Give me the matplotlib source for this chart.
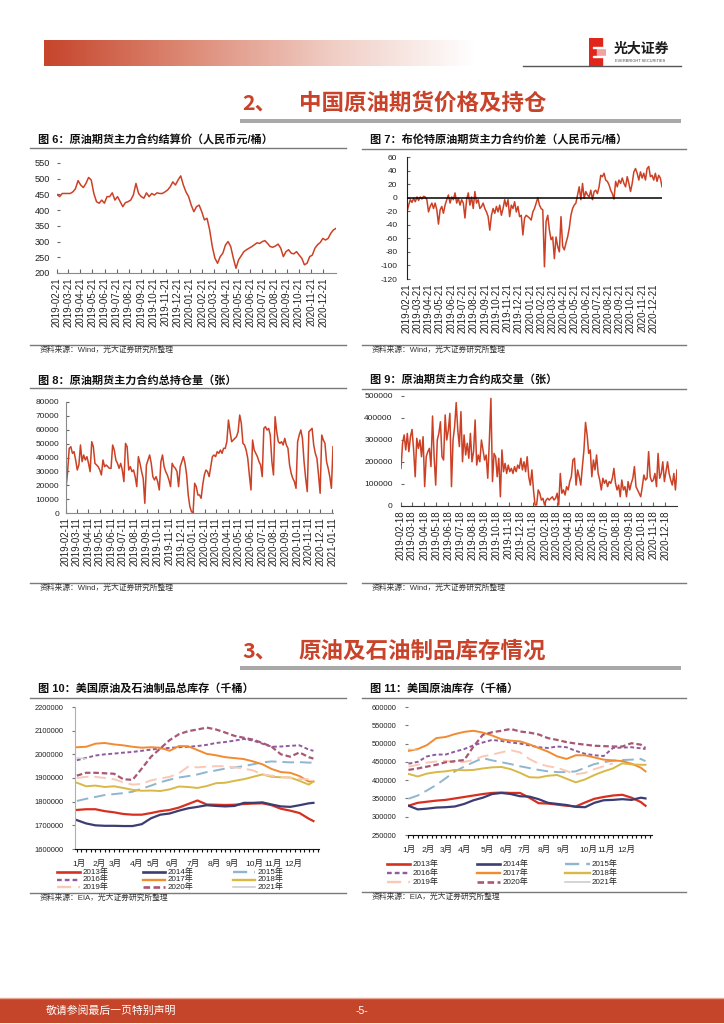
import numpy as np
import pandas as pd
import matplotlib
matplotlib.use('Agg')
import matplotlib.pyplot as plt
from matplotlib.lines import Line2D
from matplotlib.patches import Rectangle
from matplotlib.colors import LinearSegmentedColormap
from matplotlib.ticker import FuncFormatter

plt.rcParams['font.family'] = ['Liberation Sans', 'Noto Sans CJK SC', 'DejaVu Sans']
plt.rcParams['axes.unicode_minus'] = False

W, H = 724, 1024
RED = '#c9432a'
CJK = ['Noto Sans CJK SC', 'DejaVu Sans']

# ---------------- data ----------------
# 图6 结算价 (元/桶), 2019-02-21 .. 2021-01-22
PRICE = [450, 443, 453, 453, 453, 453, 458, 468, 494, 480, 472, 485, 504, 496, 453, 427, 422, 432,
         422, 443, 443, 455, 432, 443, 427, 411, 424, 427, 432, 448, 485, 453, 443, 438, 455, 443,
         453, 448, 455, 453, 453, 458, 464, 474, 490, 480, 496, 509, 480, 458, 443, 416, 395, 411,
         416, 395, 369, 374, 337, 284, 247, 231, 252, 263, 289, 300, 284, 247, 215, 242, 255, 268,
         274, 279, 284, 290, 296, 294, 300, 303, 294, 284, 282, 286, 292, 279, 252, 268, 274, 263,
         261, 268, 257, 247, 226, 231, 252, 257, 279, 290, 297, 310, 305, 310, 326, 337, 342]

# 图7 价差 (元/桶), 2019-02-21 .. 2021-01-13
SPREAD = [-21, -11, -3, -7, -1, -6, 1, -4, 1, -2, 2, 1, -3, -21, -13, -8, -16, -8, -18, -39,
          -18, -13, -23, -11, -3, 4, -8, 1, -3, 7, -8, -1, -11, -3, -8, -30, -3, 7, -11, 1,
          -16, 9, -8, -3, -16, -13, -8, -16, -21, -28, -48, -26, -16, -23, -13, -21, -11, -26,
          -16, -3, -13, -3, -28, -11, -16, -6, -21, -13, -28, -26, -55, -30, -26, -28, -30, -33,
          -21, -16, -8, 0, -11, -16, -18, -102, -35, -26, -48, -62, -58, -90, -58, -72, -80, -28,
          -72, -77, -67, -58, -45, -26, -16, -11, -8, 4, 16, -3, 21, -1, 9, 4, 1, 11, -3, 9, 11,
          6, 16, 33, 31, 36, 26, 24, 19, 11, 6, -2, 24, 16, 26, 21, 29, 21, 16, 31, 21, 9, 21,
          38, 43, 36, 26, 38, 29, 36, 26, 43, 46, 31, 33, 26, 36, 24, 33, 29, 16]

# 图8 总持仓量 (千张), 2019-02-11 .. 2021-01-13
OI_K = [17.8, 29.8, 46.6, 47.8, 43.0, 44.2, 38.2, 31.0, 34.6, 49.0, 37.0, 41.8, 38.2, 40.6, 35.8,
        29.8, 51.4, 47.8, 35.8, 34.6, 33.4, 31.0, 27.4, 38.2, 33.4, 34.6, 33.4, 32.2, 32.2, 49.0,
        45.4, 38.2, 35.8, 32.2, 35.8, 31.0, 22.6, 50.2, 47.8, 31.0, 33.4, 29.8, 31.0, 26.2, 19.0,
        40.6, 35.8, 29.8, 25.0, 7.0, 34.6, 38.2, 41.8, 35.8, 26.2, 23.8, 26.2, 22.6, 16.6, 37.0,
        41.8, 33.4, 29.8, 27.4, 23.8, 19.0, 35.8, 33.4, 32.2, 29.8, 19.0, 33.4, 37.0, 40.6, 35.8,
        27.4, 13.0, 4.6, 1.0, 0.0, 21.4, 19.0, 13.0, 13.0, 10.6, 20.2, 27.4, 31.0, 29.8, 26.2,
        33.4, 40.6, 41.8, 40.6, 44.2, 43.0, 45.4, 43.0, 46.6, 46.6, 51.4, 67.0, 58.6, 51.4, 52.6,
        53.8, 55.0, 58.6, 70.6, 64.6, 50.2, 49.0, 45.4, 39.4, 27.4, 16.6, 52.6, 45.4, 43.0, 40.6,
        37.0, 34.6, 26.2, 61.0, 62.2, 59.8, 61.0, 56.2, 37.0, 27.4, 69.4, 58.6, 51.4, 50.2, 51.4,
        49.0, 53.8, 49.0, 46.6, 34.6, 28.6, 25.0, 22.6, 17.8, 51.4, 56.2, 59.8, 53.8, 37.0, 25.0,
        15.4, 58.6, 59.8, 61.0, 49.0, 43.0, 39.4, 27.4, 14.2, 56.2, 52.6, 50.2, 37.0, 32.2, 26.2,
        17.8, 47.8]

# 图9 成交量 (千张), 2019-02-18 .. 2021-01-17
VOL_K = [171, 285, 323, 255, 330, 247, 315, 348, 255, 133, 308, 262, 300, 224, 315, 88, 224, 247,
         262, 179, 409, 224, 95, 300, 330, 383, 224, 209, 414, 300, 345, 421, 88, 300, 361, 470,
         345, 270, 429, 201, 323, 232, 285, 217, 330, 201, 247, 391, 186, 232, 201, 300, 255, 209,
         232, 126, 292, 489, 111, 239, 224, 133, 217, 42, 255, 156, 194, 148, 186, 156, 171, 148,
         179, 156, 186, 171, 217, 164, 201, 156, 224, 133, 95, 164, 73, 5, 5, 73, 58, 27, 35, 5,
         27, 35, 27, 35, 42, 27, 35, 58, 5, 148, 58, 73, 50, 88, 73, 111, 133, 209, 217, 95, 164,
         133, 95, 179, 255, 380, 323, 239, 255, 133, 209, 164, 232, 148, 118, 73, 126, 103, 118,
         88, 111, 103, 126, 171, 103, 73, 95, 42, 118, 73, 88, 42, 111, 73, 103, 126, 179, 88, 73,
         58, 42, 88, 141, 118, 126, 247, 133, 111, 118, 148, 88, 239, 126, 148, 201, 111, 156, 201,
         148, 118, 95, 148, 73, 164]

# 图10/11 周度 (第几周), 千桶
WEEKS = list(range(0, 51, 2)) + [51]
MONTHS = ['1月', '2月', '3月', '4月', '5月', '6月', '7月', '8月', '9月', '10月', '11月', '12月']
TOTAL_MONTH_WEEKS = [0.4, 4.7, 8.3, 12.8, 16.5, 20.5, 25.1, 29.7, 33.6, 38.2, 42.4, 46.7]
CRUDE_MONTH_WEEKS = [0.2, 4.3, 8.1, 12.0, 16.9, 21.0, 25.0, 29.3, 33.4, 38.6, 42.6, 46.9]
YEARS = ['2013年', '2014年', '2015年', '2016年', '2017年', '2018年', '2019年', '2020年', '2021年']

TOTAL_2013 = [1765, 1768, 1768, 1760, 1755, 1748, 1745, 1745, 1752, 1760, 1765, 1775, 1790, 1805,
              1788, 1787, 1786, 1787, 1790, 1792, 1793, 1785, 1770, 1762, 1752, 1728, 1718]
TOTAL_2014 = [1722, 1708, 1700, 1698, 1698, 1697, 1697, 1705, 1730, 1745, 1750, 1762, 1772, 1778,
              1785, 1782, 1780, 1782, 1795, 1795, 1797, 1788, 1780, 1778, 1785, 1793, 1795]
TOTAL_2015 = [1803, 1812, 1820, 1828, 1832, 1836, 1842, 1855, 1868, 1882, 1893, 1902, 1908, 1915,
              1925, 1932, 1940, 1945, 1950, 1958, 1966, 1970, 1968, 1966, 1967, 1965, 1965]
TOTAL_2016 = [1975, 1985, 1995, 2000, 2003, 2007, 2010, 2015, 2020, 2025, 2027, 2030, 2032, 2035,
              2040, 2048, 2052, 2058, 2065, 2058, 2045, 2032, 2033, 2036, 2038, 2020, 2015]
TOTAL_2017 = [2030, 2032, 2045, 2048, 2042, 2038, 2032, 2028, 2030, 2028, 2015, 2035, 2034, 2018,
              2002, 1996, 1988, 1984, 1980, 1970, 1958, 1938, 1925, 1922, 1908, 1885, 1885]
TOTAL_2018 = [1880, 1865, 1868, 1862, 1865, 1858, 1850, 1846, 1847, 1845, 1852, 1864, 1862, 1858,
              1866, 1878, 1880, 1888, 1895, 1905, 1915, 1905, 1903, 1902, 1888, 1872, 1885]
TOTAL_2019 = [1900, 1905, 1905, 1900, 1895, 1882, 1872, 1875, 1890, 1898, 1905, 1920, 1948, 1945,
              1948, 1950, 1950, 1945, 1940, 1932, 1915, 1910, 1905, 1900, 1895, 1895]
TOTAL_2020 = [1910, 1922, 1922, 1920, 1918, 1895, 1892, 1940, 1990, 2025, 2060, 2085, 2098, 2105,
              2113, 2105, 2092, 2078, 2070, 2062, 2048, 2032, 2000, 1990, 2008, 1988, 1982]
TOTAL_2021 = [1985, 1982]

CRUDE_2013 = [330, 338, 341, 344, 346, 350, 354, 358, 362, 365, 366, 365, 365, 352, 337, 336, 333,
              330, 328, 339, 349, 354, 358, 360, 352, 340, 330]
CRUDE_2014 = [330, 320, 322, 325, 326, 328, 335, 345, 352, 362, 365, 362, 356, 355, 348, 338, 335,
              332, 327, 326, 338, 345, 346, 348, 346, 352, 350]
CRUDE_2015 = [349, 358, 372, 387, 405, 424, 437, 449, 460, 454, 449, 444, 438, 433, 428, 424, 422,
              422, 424, 434, 444, 449, 453, 455, 456, 458, 452]
CRUDE_2016 = [445, 450, 465, 470, 470, 478, 485, 495, 503, 510, 507, 503, 500, 495, 490, 488, 492,
              490, 480, 472, 468, 466, 488, 489, 490, 487, 485]
CRUDE_2017 = [480, 485, 496, 515, 518, 526, 532, 535, 530, 522, 512, 508, 506, 498, 488, 478, 465,
              458, 468, 468, 462, 456, 454, 452, 445, 434, 424]
CRUDE_2018 = [417, 410, 418, 422, 424, 428, 427, 428, 432, 435, 436, 430, 420, 408, 407, 412, 414,
              404, 394, 402, 414, 424, 432, 446, 443, 442, 442]
CRUDE_2019 = [437, 442, 448, 451, 453, 448, 450, 455, 465, 470, 476, 482, 476, 458, 445, 438, 434,
              425, 416, 420, 430, 438, 446]
CRUDE_2020 = [428, 432, 437, 442, 449, 452, 455, 492, 524, 531, 535, 540, 533, 530, 525, 515, 510,
              504, 500, 497, 494, 493, 492, 492, 501, 497, 488]
CRUDE_2021 = [485, 482]

# 线型 (颜色, 线宽, 虚线)
YEAR_STYLES = [('#d7301f', 1.6, None), ('#3c3d73', 1.6, None), ('#8fb6d0', 1.4, (6, 3)),
               ('#8e5b9f', 1.4, (2, 1.3)), ('#f28b30', 1.4, None), ('#d9b847', 1.4, None),
               ('#f9c9b6', 1.4, (6, 3)), ('#a85874', 1.6, (2.5, 1.3)), ('#c9c9c9', 0.8, None)]


# ---------------- helpers ----------------
fig = plt.figure(figsize=(7.24, 10.24), dpi=100)


def px_axes(x0, y0, x1, y1):
    return fig.add_axes([x0 / W, 1 - y1 / H, (x1 - x0) / W, (y1 - y0) / H])


def ftext(x, y, s, **kw):
    fig.text(x / W, 1 - y / H, s, **kw)


def fline(x0, x1, y, color='#8c8c8c', lw=1.0):
    fig.add_artist(Line2D([x0 / W, x1 / W], [1 - y / H, 1 - y / H], color=color, lw=lw))


def frame(x0, x1, ty, tline, sline, title, source):
    ftext(x0 + 8, ty, title, fontsize=8.0, fontweight='bold', va='center', color='#111111')
    fline(x0, x1, tline, color='#7a7a7a', lw=1.0)
    fline(x0, x1, sline, color='#7a7a7a', lw=1.0)
    ftext(x0 + 10, sline + 5, source, fontsize=5.6, va='center', color='#333333')


def month_ticks(start, n):
    return [pd.Timestamp(start) + pd.DateOffset(months=i) for i in range(n)]


def date_axes(rect, start, end, vals, ylim, yticks, tick_start, n_ticks, pad_y, ysize=6.0):
    ax = px_axes(*rect)
    dates = pd.date_range(start, end, periods=len(vals))
    ax.plot(dates.to_pydatetime(), vals, color='#cc4125', lw=1.1)
    ax.set_xlim(pd.Timestamp(start).to_pydatetime(), pd.Timestamp(end).to_pydatetime())
    ax.set_ylim(*ylim)
    ax.set_yticks(yticks)
    ax.yaxis.set_major_formatter(FuncFormatter(lambda v, p: '%d' % v))
    ticks = month_ticks(tick_start, n_ticks)
    ax.set_xticks([t.to_pydatetime() for t in ticks])
    ax.set_xticklabels([t.strftime('%Y-%m-%d') for t in ticks], rotation=90, fontsize=7.0,
                       color='#222222')
    ax.tick_params(axis='x', direction='in', length=3, width=0.8, color='#666666', pad=3)
    ax.tick_params(axis='y', direction='in', length=2, width=0.8, color='#666666', pad=pad_y,
                   labelsize=ysize, labelcolor='#222222')
    for s in ['top', 'right']:
        ax.spines[s].set_visible(False)
    ax.spines['bottom'].set_color('#8a8a8a')
    ax.spines['left'].set_color('#8a8a8a')
    ax.patch.set_alpha(0)
    return ax


def season_axes(rect, series, weeks_lbl, ylim, ystep, xlim):
    ax = px_axes(*rect)
    for vals, (c, lw, dash) in zip(series, YEAR_STYLES):
        ln, = ax.plot(WEEKS[:len(vals)], np.array(vals) * 1000, color=c, lw=lw)
        if dash:
            ln.set_dashes(dash)
    ax.set_xlim(*xlim)
    ax.set_ylim(*ylim)
    ax.set_yticks(np.arange(ylim[0], ylim[1] + 1, ystep))
    ax.yaxis.set_major_formatter(FuncFormatter(lambda v, p: '%d' % v))
    ax.set_xticks(weeks_lbl)
    ax.set_xticklabels(MONTHS, fontsize=6.1, color='#222222')
    ax.set_xticks(range(0, 53), minor=True)
    ax.tick_params(axis='x', which='major', length=0, pad=8)
    ax.tick_params(axis='x', which='minor', direction='out', length=2.5, width=0.8, color='#111111')
    ax.tick_params(axis='y', direction='out', length=2, width=0.8, color='#777777', pad=6,
                   labelsize=5.4, labelcolor='#222222')
    for s in ['top', 'right']:
        ax.spines[s].set_visible(False)
    ax.spines['bottom'].set_color('#111111')
    ax.spines['left'].set_color('#b0b0b0')
    ax.patch.set_alpha(0)
    return ax


def season_legend(hx, tx, rows):
    for i, (name, (c, lw, dash)) in enumerate(zip(YEARS, YEAR_STYLES)):
        col, row = i % 3, i // 3
        y = 1 - rows[row] / H
        ln = Line2D([hx[col][0] / W, hx[col][1] / W], [y, y], color=c, lw=lw + 0.3)
        if dash:
            ln.set_dashes(dash)
        fig.add_artist(ln)
        ftext(tx[col], rows[row], name, fontsize=5.8, va='center', color='#222222')


# ---------------- header ----------------
ax_g = px_axes(44, 40, 476, 66)
cmap = LinearSegmentedColormap.from_list('hdr', ['#c6452b', '#dd8a76', '#f0cdc4', '#ffffff'])
ax_g.imshow(np.linspace(0, 1, 300)[None, :], aspect='auto', cmap=cmap, extent=[0, 1, 0, 1])
ax_g.axis('off')

ax_logo = px_axes(589, 38, 606, 66)
ax_logo.set_xlim(0, 1)
ax_logo.set_ylim(0, 1)
ax_logo.axis('off')
ax_logo.add_patch(Rectangle((0.0, 0.0), 0.75, 1.0, color='#e0261b'))
ax_logo.add_patch(Rectangle((0.45, 0.35), 0.55, 0.28, color='#f2a2a0'))
for yb in [0.32, 0.64]:
    ax_logo.add_patch(Rectangle((0.25, yb), 0.75, 0.05, color='white'))
ftext(614, 49, '光大证券', fontsize=10, fontweight='bold', va='center', family=CJK, color='#1a1a1a')
ftext(615, 61, 'EVERBRIGHT SECURITIES', fontsize=2.8, va='center', color='#444444')
fline(523, 681, 66, color='#555555', lw=1.0)

# ---------------- section 2 ----------------
ftext(242, 103, '2、', fontsize=15.5, fontweight='bold', va='center', color=RED, family=CJK)
ftext(299, 103, '中国原油期货价格及持仓', fontsize=16.2, fontweight='bold', va='center',
      color=RED, family=CJK)
fig.add_artist(Rectangle((240 / W, 1 - 123 / H), 441 / W, 4 / H, transform=fig.transFigure,
                         color='#a8a8a8', lw=0))

frame(30, 346, 140, 148, 345, '图 6：原油期货主力合约结算价（人民币元/桶）', '资料来源：Wind，光大证券研究所整理')
frame(362, 686, 140, 149, 345, '图 7：布伦特原油期货主力合约价差（人民币元/桶）', '资料来源：Wind，光大证券研究所整理')
frame(30, 346, 380, 388, 583, '图 8：原油期货主力合约总持仓量（张）', '资料来源：Wind，光大证券研究所整理')
frame(362, 686, 380, 389, 583, '图 9：原油期货主力合约成交量（张）', '资料来源：Wind，光大证券研究所整理')

ax6 = date_axes((57, 163, 336, 273), '2019-02-21', '2021-01-22', PRICE, (200, 550),
                range(200, 551, 50), '2019-02-21', 23, 5, ysize=6.6)
ax6.spines['left'].set_visible(False)

ax7 = date_axes((407, 157, 662, 279), '2019-02-21', '2021-01-13', SPREAD, (-120, 60),
                range(-120, 61, 20), '2019-02-21', 23, 7)
ax7.axhline(0, color='black', lw=1.1, zorder=3)
ax7.spines['bottom'].set_visible(False)
ax7.spines['left'].set_color('#222222')
ax7.tick_params(axis='x', length=0)

ax8 = date_axes((66, 402, 333, 513), '2019-02-11', '2021-01-13', np.array(OI_K) * 1000,
                (0, 80000), range(0, 80001, 10000), '2019-02-11', 24, 5)

ax9 = date_axes((401, 396, 677, 506), '2019-02-18', '2021-01-17', np.array(VOL_K) * 1000,
                (0, 500000), range(0, 500001, 100000), '2019-02-18', 23, 6)
ax9.spines['left'].set_visible(False)
ax9.spines['bottom'].set_color('#333333')

# ---------------- section 3 ----------------
ftext(242, 651, '3、', fontsize=15.5, fontweight='bold', va='center', color=RED, family=CJK)
ftext(299, 651, '原油及石油制品库存情况', fontsize=16.2, fontweight='bold', va='center',
      color=RED, family=CJK)
fig.add_artist(Rectangle((240 / W, 1 - 670 / H), 441 / W, 4 / H, transform=fig.transFigure,
                         color='#a8a8a8', lw=0))

frame(30, 346, 689, 698, 893, '图 10：美国原油及石油制品总库存（千桶）', '资料来源：EIA，光大证券研究所整理')
frame(362, 686, 689, 698, 892, '图 11：美国原油库存（千桶）', '资料来源：EIA，光大证券研究所整理')

total_series = [TOTAL_2013, TOTAL_2014, TOTAL_2015, TOTAL_2016, TOTAL_2017, TOTAL_2018,
                TOTAL_2019, TOTAL_2020, TOTAL_2021]
crude_series = [CRUDE_2013, CRUDE_2014, CRUDE_2015, CRUDE_2016, CRUDE_2017, CRUDE_2018,
                CRUDE_2019, CRUDE_2020, CRUDE_2021]

ax10 = season_axes((75, 707, 319, 849), total_series, TOTAL_MONTH_WEEKS, (1600000, 2200000),
                   100000, (-0.4, 52.2))
season_legend([(57, 80), (143, 165), (233, 255)], [83, 168, 258], [872, 879.5, 887])

ax11 = season_axes((408, 707, 652, 835), crude_series, CRUDE_MONTH_WEEKS, (250000, 600000),
                   50000, (-0.1, 52.4))
ax11.spines['left'].set_visible(False)
season_legend([(387, 410), (477, 500), (565, 590)], [413, 503, 592], [864, 873, 882])

# ---------------- footer ----------------
fig.add_artist(Rectangle((0, 1 - 1023 / H), 1, 25 / H, transform=fig.transFigure,
                         color='#c5452a', lw=0))
fline(0, 724, 997.5, color='#e6a595', lw=1.0)
ftext(46, 1011, '敬请参阅最后一页特别声明', fontsize=7.8, va='center', color='white', family=CJK)
ftext(362, 1011, '-5-', fontsize=7.5, va='center', ha='center', color='white')

fig.savefig('out.png', dpi=100)
